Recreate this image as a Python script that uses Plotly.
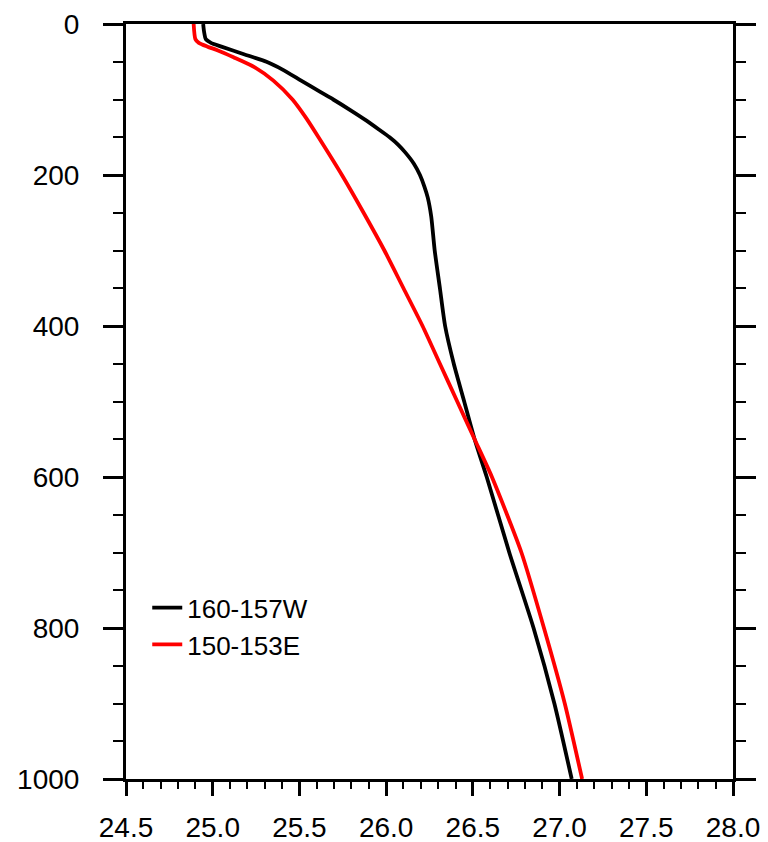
import plotly.graph_objects as go

# 160-157W profile (black)
depth_w = [0, 10, 20, 25, 30, 40, 50, 60, 75, 90, 100, 115, 127, 140, 150, 160, 170, 185,
           200, 215, 230, 255, 300, 350, 400, 450, 500, 550, 600, 700, 800, 900, 1000]
val_w = [24.945, 24.95, 24.96, 24.99, 25.05, 25.18, 25.31, 25.40, 25.51, 25.62, 25.695,
         25.80, 25.88, 25.96, 26.02, 26.07, 26.11, 26.16, 26.195, 26.22, 26.24, 26.26,
         26.28, 26.31, 26.34, 26.39, 26.45, 26.51, 26.58, 26.71, 26.85, 26.97, 27.07]

# 150-153E profile (red)
depth_e = [0, 20, 25, 30, 35, 44, 57, 75, 100, 125, 150, 200, 250, 300, 350, 400, 450,
           500, 550, 600, 700, 800, 900, 1000]
val_e = [24.89, 24.90, 24.92, 24.97, 25.03, 25.12, 25.24, 25.35, 25.46, 25.54, 25.61,
         25.745, 25.87, 25.99, 26.10, 26.21, 26.31, 26.41, 26.51, 26.61, 26.78, 26.91,
         27.03, 27.13]

x_ticks = [24.5, 25.0, 25.5, 26.0, 26.5, 27.0, 27.5, 28.0]
x_labels = ["24.5", "25.0", "25.5", "26.0", "26.5", "27.0", "27.5", "28.0"]
y_ticks = [0, 200, 400, 600, 800, 1000]

fig = go.Figure()
fig.add_trace(go.Scatter(x=val_w, y=depth_w, mode="lines", name="160-157W",
                         line=dict(color="black", width=3.8, shape="spline", smoothing=0.6)))
fig.add_trace(go.Scatter(x=val_e, y=depth_e, mode="lines", name="150-153E",
                         line=dict(color="#ff0000", width=3.8, shape="spline", smoothing=0.6)))

font = "Liberation Sans"
fig.update_layout(
    width=768, height=842,
    margin=dict(l=126, r=35, t=24, b=63),
    paper_bgcolor="white", plot_bgcolor="white",
    font=dict(family=font, size=28, color="black"),
    showlegend=True,
    legend=dict(x=0.035, y=0.258, xanchor="left", yanchor="top",
                bgcolor="rgba(0,0,0,0)", font=dict(size=26, family=font),
                itemwidth=30, tracegroupgap=0),
)
fig.update_xaxes(
    range=[24.5, 28.0], tickvals=x_ticks, ticktext=x_labels, automargin=False,
    showgrid=False, zeroline=False,
    showline=True, linecolor="black", linewidth=3, mirror=True,
    ticks="outside", ticklen=14, tickwidth=3, tickcolor="black",
    ticklabelstandoff=7,
    minor=dict(dtick=0.1, ticks="outside", ticklen=7, tickwidth=2, tickcolor="black", showgrid=False),
)
fig.update_yaxes(
    range=[1000, 0], tickvals=y_ticks, automargin=False,
    showgrid=False, zeroline=False,
    showline=True, linecolor="black", linewidth=3, mirror="ticks",
    ticks="outside", ticklen=20, tickwidth=3, tickcolor="black",
    ticklabelstandoff=18,
    minor=dict(dtick=50, ticks="outside", ticklen=10, tickwidth=2, tickcolor="black", showgrid=False),
)

fig.write_html("out.html")
